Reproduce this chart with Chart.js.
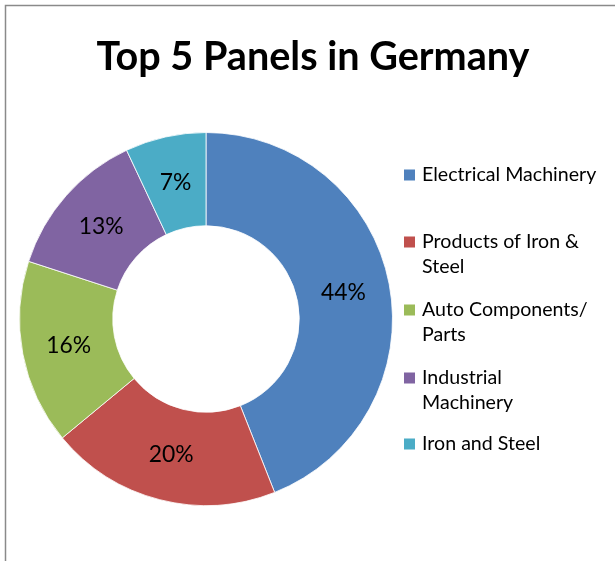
<!DOCTYPE html>
<html>
<head>
<meta charset="utf-8">
<script src="https://cdn.jsdelivr.net/npm/chart.js@4"></script>
<style>
html,body{margin:0;padding:0;background:#fff;}
#wrap{position:relative;width:615px;height:561px;}
</style>
</head>
<body>
<div id="wrap"><canvas id="c" width="615" height="561"></canvas></div>
<script>
const titleText = "Top 5 Panels in Germany";
const categories = ["Electrical Machinery", "Products of Iron & Steel", "Auto Components/ Parts", "Industrial Machinery", "Iron and Steel"];
const legendLines = [["Electrical Machinery"], ["Products of Iron &", "Steel"], ["Auto Components/", "Parts"], ["Industrial", "Machinery"], ["Iron and Steel"]];
const values = [44, 20, 16, 13, 7];
const colors = ["#4F81BD", "#C0504D", "#9BBB59", "#8064A2", "#4BACC6"];

const FONT = "Lato, 'Liberation Sans', sans-serif";

function fitFont(ctx, weight, text, target, base) {
  ctx.font = weight + base + "px " + FONT;
  const w = ctx.measureText(text).width;
  return (base * target / w).toFixed(1);
}

const decor = {
  id: 'decor',
  afterDraw(chart) {
    const ctx = chart.ctx;
    ctx.save();
    // frame
    ctx.strokeStyle = '#8a8a8a';
    ctx.lineWidth = 1.5;
    ctx.beginPath();
    ctx.moveTo(5.5, 561);
    ctx.lineTo(5.5, 5.5);
    ctx.lineTo(615, 5.5);
    ctx.stroke();
    // title
    ctx.fillStyle = '#000';
    const ts = fitFont(ctx, "bold ", titleText, 433, 37);
    ctx.font = "bold " + ts + "px " + FONT;
    ctx.textAlign = 'center';
    ctx.textBaseline = 'alphabetic';
    ctx.fillText(titleText, 313, 70);
    // slice labels
    const meta = chart.getDatasetMeta(0);
    const ls = fitFont(ctx, "", "44%", 45, 20);
    ctx.font = ls + "px " + FONT;
    ctx.textAlign = 'center';
    ctx.textBaseline = 'middle';
    meta.data.forEach((arc, i) => {
      const p = arc.tooltipPosition();
      ctx.fillText(values[i] + '%', p.x, p.y);
    });
    // legend
    const gs = fitFont(ctx, "", "Electrical Machinery", 174, 18);
    ctx.font = gs + "px " + FONT;
    ctx.textAlign = 'left';
    ctx.textBaseline = 'middle';
    const starts = [175, 242, 310, 378, 444];
    legendLines.forEach((lines, i) => {
      const y0 = starts[i];
      ctx.fillStyle = chart.data.datasets[0].backgroundColor[i];
      ctx.fillRect(404, y0 - 5.5, 11, 11);
      ctx.fillStyle = '#000';
      lines.forEach((t, j) => ctx.fillText(t, 422, y0 + j * 25));
    });
    ctx.restore();
  }
};

new Chart(document.getElementById('c'), {
  type: 'doughnut',
  data: {
    labels: categories,
    datasets: [{
      data: values,
      backgroundColor: colors,
      borderColor: 'rgba(255,255,255,0.8)',
      borderWidth: 1
    }]
  },
  options: {
    responsive: false,
    animation: false,
    cutout: '50%',
    layout: { padding: { left: 19, right: 222, top: 132, bottom: 55 } },
    plugins: {
      legend: { display: false },
      title: { display: false },
      tooltip: { enabled: false }
    }
  },
  plugins: [decor]
});
</script>
</body>
</html>
